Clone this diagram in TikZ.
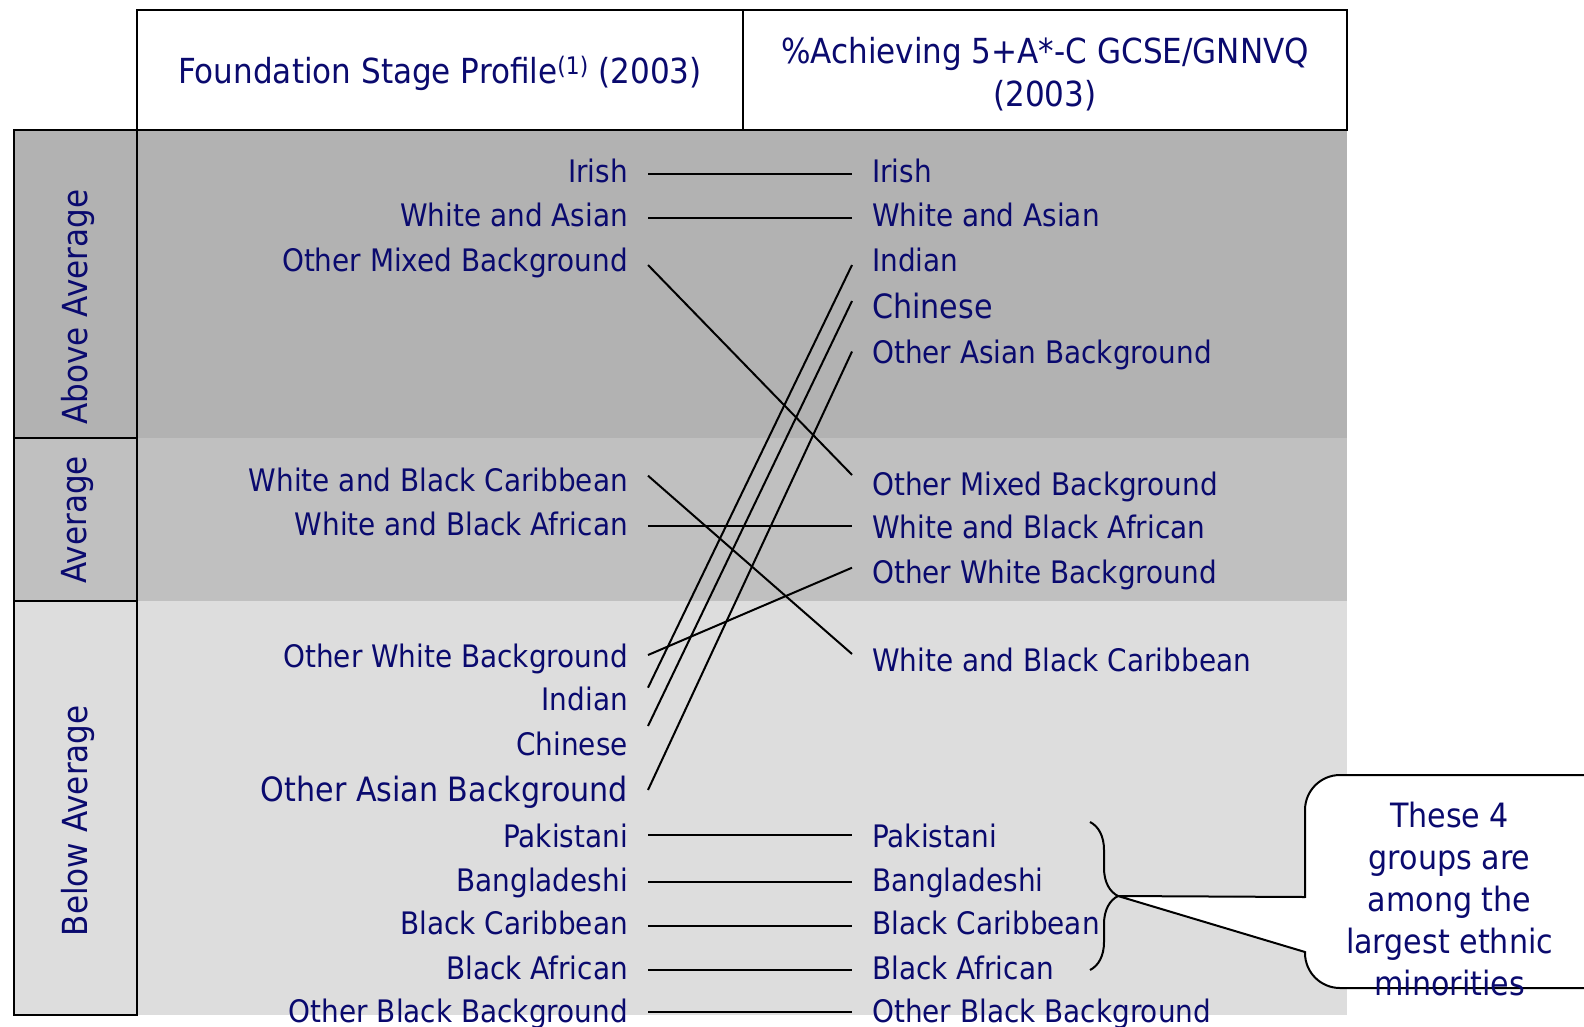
\documentclass[tikz,border=0pt]{standalone}
\usepackage{fontspec}
\setmainfont{DejaVu Sans}[FakeStretch=0.9]
\usetikzlibrary{decorations.pathreplacing}
\definecolor{navy}{RGB}{10,10,110}
\definecolor{bandA}{RGB}{178,178,178}
\definecolor{bandB}{RGB}{192,192,192}
\definecolor{bandC}{RGB}{221,221,221}
\tikzset{
  txt/.style={font=\fontsize{31}{37}\selectfont, text=navy},
  big/.style={font=\fontsize{33.5}{40}\selectfont},
  lft/.style={txt, inner xsep=20pt, inner ysep=0pt, anchor=base east},
  rgt/.style={txt, inner xsep=20pt, inner ysep=0pt, anchor=base west},
  conn/.style={line width=2pt, black},
  border/.style={line width=2pt, black},
  side/.style={txt, font=\fontsize{34.5}{40}\selectfont, rotate=90, inner sep=0pt}
}
\begin{document}
\begin{tikzpicture}[x=1pt,y=-1pt]
\useasboundingbox (0,0) rectangle (1584,1026);
% bands
\fill[bandA] (137.4,130.3) rectangle (1346.6,438.4);
\fill[bandB] (137.4,438.4) rectangle (1346.6,601);
\fill[bandC] (137.4,601) rectangle (1346.6,1015.3);
% left column
\filldraw[border, fill=bandA] (14.1,130.3) rectangle (137.4,438.4);
\filldraw[border, fill=bandB] (14.1,438.4) rectangle (137.4,601);
\filldraw[border, fill=bandC] (14.1,601) rectangle (137.4,1015.3);
\node[side] (sA) at (78,307) {Above Average};
\node[side] (sB) at (78,519.8) {Average};
\node[side] (sC) at (78,820.8) {Below Average};
% header
\draw[border, fill=white] (137.4,10.1) rectangle (742.5,130.3);
\draw[border, fill=white] (742.5,10.1) rectangle (1346.6,130.3);
\node[txt, inner sep=0pt, font=\fontsize{34.5}{42.5}\selectfont] (h1) at (440,73) {Foundation Stage Profile\textsuperscript{(1)} (2003)};
\node[txt, inner sep=0pt, align=center, font=\fontsize{34.5}{42.5}\selectfont] (h2) at (1045,74) {\%Achieving 5+A*-C GCSE/GNNVQ\\(2003)};
% left labels
\node[lft] (l1) at (648,182) {Irish};
\node[lft] (l2) at (648,226.7) {White and Asian};
\node[lft] (l3) at (648,271) {Other Mixed Background};
\node[lft] (l4) at (648,491.3) {White and Black Caribbean};
\node[lft] (l5) at (648,535.8) {White and Black African};
\node[lft] (l6) at (648,667) {Other White Background};
\node[lft] (l7) at (648,710.5) {Indian};
\node[lft] (l8) at (648,755) {Chinese};
\node[lft, big] (l9) at (648,801.5) {Other Asian Background};
\node[lft] (l10) at (648,847) {Pakistani};
\node[lft] (l11) at (648,891.4) {Bangladeshi};
\node[lft] (l12) at (648,934.8) {Black Caribbean};
\node[lft] (l13) at (648,979.3) {Black African};
\node[lft] (l14) at (648,1022.7) {Other Black Background};
% right labels
\node[rgt] (r1) at (852,182) {Irish};
\node[rgt] (r2) at (852,226.7) {White and Asian};
\node[rgt] (r3) at (852,271) {Indian};
\node[rgt, big] (r4) at (852,318.5) {Chinese};
\node[rgt] (r5) at (852,363) {Other Asian Background};
\node[rgt] (r6) at (852,495.4) {Other Mixed Background};
\node[rgt] (r7) at (852,538.8) {White and Black African};
\node[rgt] (r8) at (852,583.3) {Other White Background};
\node[rgt] (r9) at (852,671.2) {White and Black Caribbean};
\node[rgt] (r10) at (852,847) {Pakistani};
\node[rgt] (r11) at (852,891.4) {Bangladeshi};
\node[rgt] (r12) at (852,934.8) {Black Caribbean};
\node[rgt] (r13) at (852,979.3) {Black African};
\node[rgt] (r14) at (852,1022.7) {Other Black Background};
% connectors
\draw[conn] ([yshift=8pt]l1.base east) -- ([yshift=8pt]r1.base west);
\draw[conn] ([yshift=8.7pt]l2.base east) -- ([yshift=8.7pt]r2.base west);
\draw[conn] ([yshift=6pt]l3.base east) -- ([yshift=20.4pt]r6.base west);
\draw[conn] ([yshift=22.8pt]l7.base east) -- ([yshift=6pt]r3.base west);
\draw[conn] ([yshift=29pt]l8.base east) -- ([yshift=17.5pt]r4.base west);
\draw[conn] ([yshift=11.5pt]l9.base east) -- ([yshift=11.5pt]r5.base west);
\draw[conn] ([yshift=15.6pt]l4.base east) -- ([yshift=17.2pt]r9.base west);
\draw[conn] ([yshift=9.8pt]l5.base east) -- ([yshift=12.8pt]r7.base west);
\draw[conn] ([yshift=12pt]l6.base east) -- ([yshift=15.6pt]r8.base west);
\draw[conn] ([yshift=11.6pt]l10.base east) -- ([yshift=11.6pt]r10.base west);
\draw[conn] ([yshift=9.5pt]l11.base east) -- ([yshift=9.5pt]r11.base west);
\draw[conn] ([yshift=8.4pt]l12.base east) -- ([yshift=8.4pt]r12.base west);
\draw[conn] ([yshift=9.5pt]l13.base east) -- ([yshift=9.5pt]r13.base west);
\draw[conn] ([yshift=11pt]l14.base east) -- ([yshift=11pt]r14.base west);
% brace
\coordinate (bt) at (1090,822);
\coordinate (bb) at (1090,970);
\draw[line width=2pt, decorate, decoration={brace, amplitude=28pt, aspect=0.5}] (bt) -- (bb);
\coordinate (tip) at (1118,896);
% callout
\filldraw[border, fill=white, rounded corners=35pt] (1305,775) rectangle (1640,988);
\coordinate (pa) at (1305,897);
\coordinate (pb) at (1305,952);
\fill[white] ([yshift=-1pt]pa) -- (tip) -- ([yshift=1pt]pb) -- ([xshift=2pt,yshift=1pt]pb) -- ([xshift=2pt,yshift=-1pt]pa) -- cycle;
\draw[line width=2pt, line join=round] (pa) -- (tip) -- (pb);
\node[txt, align=center, inner sep=0pt, font=\fontsize{33.5}{42}\selectfont] (co) at (1449.6,899) {These 4\\groups are\\among the\\largest ethnic\\minorities};
\end{tikzpicture}
\end{document}
